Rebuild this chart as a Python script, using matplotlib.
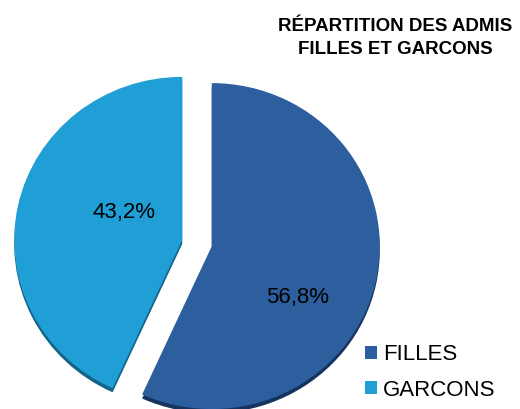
import matplotlib.pyplot as plt

# data
labels = ["FILLES", "GARCONS"]
values = [56.8, 43.2]
colors = ["#2d5e9e", "#209ed6"]
shadow_colors = ["#15335e", "#13648a"]

title = "RÉPARTITION DES ADMIS\nFILLES ET GARCONS"

plt.rcParams['font.family'] = ['Liberation Sans', 'DejaVu Sans']

fig = plt.figure(figsize=(5.2, 4.09), dpi=100)
ax = fig.add_axes([0, 0, 1, 1])

# slightly flattened pie: 168 px per unit across, 163 px per unit up
RX, RY = 168.0, 163.0
cx, cy = 197.0, 409 - 243.0
xlim = (-cx / RX, (520 - cx) / RX)
ylim = (-cy / RY, (409 - cy) / RY)

explode = [0.09, 0.09]

# dark underside to fake the 3D edge
ax.pie(values, colors=shadow_colors, startangle=90, counterclock=False,
       explode=explode, center=(0, -0.025), radius=1.0,
       wedgeprops=dict(linewidth=0))

wedges, texts, autotexts = ax.pie(
    values, colors=colors, startangle=90, counterclock=False,
    explode=explode, radius=1.0,
    autopct=lambda p: f"{p:.1f}%".replace('.', ','),
    wedgeprops=dict(linewidth=0),
    textprops=dict(fontsize=16, color='black'))
ax.set_aspect('auto')
ax.set_xlim(*xlim)
ax.set_ylim(*ylim)
ax.axis('off')

# label placement as in the original
autotexts[0].set_position(((298 - cx) / RX, (409 - 297 - cy) / RY))
autotexts[1].set_position(((124 - cx) / RX, (409 - 212 - cy) / RY))

fig.text(395 / 520, 1 - 38 / 409, title, ha='center', va='center',
         fontsize=13.5, fontweight='bold', linespacing=1.45)

leg = ax.legend(wedges, labels, loc='upper left', frameon=False,
                bbox_to_anchor=(354 / 520, 1 - 333 / 409),
                bbox_transform=fig.transFigure,
                fontsize=16, handlelength=0.55, handleheight=0.55,
                handletextpad=0.25, labelspacing=0.65, borderpad=0)

fig.savefig("out.png", dpi=100)
